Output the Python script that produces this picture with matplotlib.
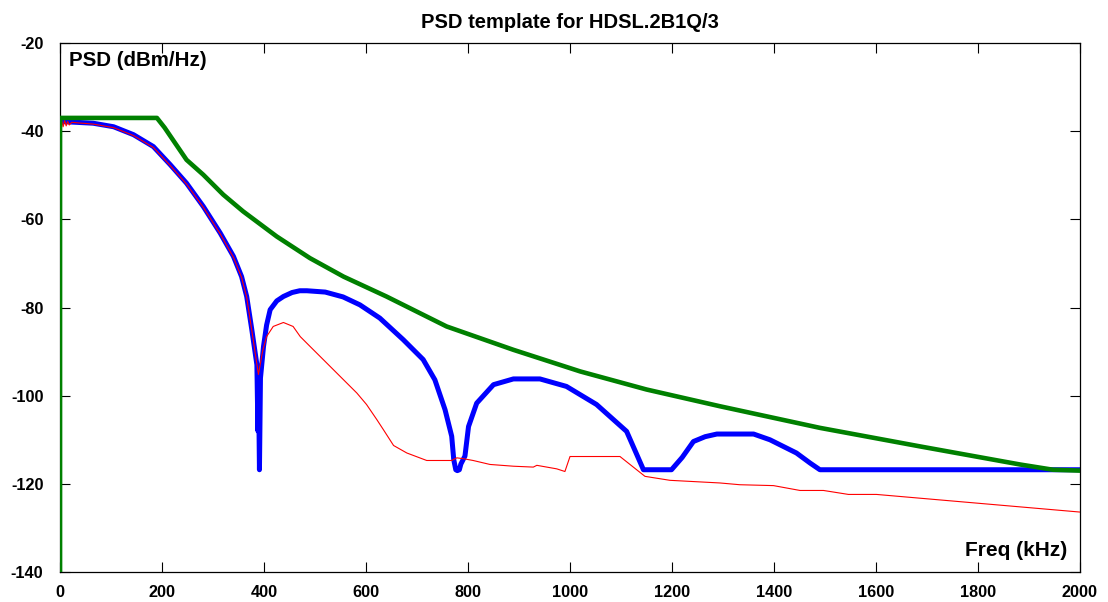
import matplotlib
matplotlib.use("Agg")
import matplotlib.pyplot as plt

plt.rcParams['font.family'] = ['Liberation Sans', 'DejaVu Sans']
plt.rcParams['font.weight'] = 'bold'
plt.rcParams['axes.unicode_minus'] = False

# template mask (green)
mask_f = [0, 0, 190, 205, 225, 248, 281, 320, 359, 425, 490, 556, 640, 758, 889, 1020,
          1150, 1294, 1490, 1686, 1882, 1947, 2000]
mask_p = [-140, -37, -37, -39.2, -42.6, -46.5, -49.9, -54.4, -58.2, -63.9, -68.8,
          -73.0, -77.5, -84.3, -89.6, -94.5, -98.6, -102.4, -107.3, -111.5, -115.6,
          -116.8, -117]

# nominal PSD (blue)
psd_f = [0, 65, 105, 144, 183, 216, 248, 281, 314, 340, 356, 366, 376, 386, 388, 389,
         391, 393, 399, 405, 412, 425, 438, 455, 470, 484, 520, 555, 588, 627, 673,
         712, 735, 755, 768, 772, 776, 779, 783, 786, 794, 801, 817, 850, 889, 941,
         993, 1052, 1111, 1144, 1199, 1220, 1242, 1265, 1288, 1360, 1392, 1444, 1471,
         1490, 2000]
psd_p = [-37.8, -38.2, -39.0, -40.8, -43.5, -47.6, -51.8, -57.1, -63.1, -68.4, -73.0,
         -77.5, -85.0, -93.0, -108.0, -95.0, -116.8, -96.0, -88.8, -84.0, -80.5,
         -78.5, -77.5, -76.6, -76.2, -76.2, -76.5, -77.6, -79.4, -82.4, -87.3, -91.8,
         -96.4, -103.2, -109.2, -114.5, -116.8, -117.0, -116.8, -115.5, -113.7, -107.0,
         -101.7, -97.5, -96.2, -96.2, -97.9, -102.0, -108.1, -116.8, -116.8, -114.0,
         -110.4, -109.3, -108.7, -108.7, -110.0, -113.0, -115.3, -116.8, -116.8]

# measured PSD (red)
meas_f = [0, 0, 3, 6, 9, 12, 15, 18, 23, 65, 105, 144, 183, 216, 248, 281, 314, 340,
          356, 366, 376, 389, 397, 405, 418, 438, 457, 471, 490, 523, 549, 582, 601,
          621, 634, 654, 680, 719, 768, 778, 791, 810, 843, 889, 928, 935, 974, 990,
          1000, 1098, 1147, 1196, 1294, 1333, 1399, 1451, 1497, 1546, 1601, 2000]
meas_p = [-140, -39.5, -37.5, -39.0, -37.6, -38.8, -37.8, -38.6, -38.0, -38.4, -39.2,
          -41.0, -43.7, -47.8, -52.0, -57.3, -63.3, -68.6, -73.2, -77.7, -85.2, -95.2,
          -90.0, -86.6, -84.3, -83.4, -84.3, -86.6, -88.8, -92.6, -95.6, -99.4,
          -102.0, -105.4, -107.7, -111.3, -113.0, -114.7, -114.7, -114.1, -114.3,
          -114.7, -115.6, -116.0, -116.2, -115.8, -116.6, -117.2, -113.8, -113.8,
          -118.3, -119.2, -119.8, -120.2, -120.4, -121.5, -121.5, -122.4, -122.4,
          -126.4]

xticks = [0, 200, 400, 600, 800, 1000, 1200, 1400, 1600, 1800, 2000]
yticks = [-140, -120, -100, -80, -60, -40, -20]

fig = plt.figure(figsize=(11.08, 6.02), dpi=100)
ax = fig.add_axes([0.0542, 0.0498, 0.9205, 0.8788])

ax.plot(meas_f, meas_p, color='#ff0000', lw=0.8, zorder=3)
ax.plot(psd_f, psd_p, color='#0000ff', lw=3.6, zorder=2)
ax.plot(mask_f, mask_p, color='#008000', lw=3.3, zorder=4)

ax.set_xlim(0, 2000)
ax.set_ylim(-140, -20)
ax.set_xticks(xticks)
ax.set_yticks(yticks)
ax.tick_params(direction='in', length=7, width=0.8, top=True, right=True,
               labelsize=11.7)
ax.tick_params(axis='x', pad=9)
ax.tick_params(axis='y', pad=12)
for lab in ax.get_xticklabels() + ax.get_yticklabels():
    lab.set_fontweight('bold')
for s in ax.spines.values():
    s.set_linewidth(0.9)

ax.set_title('PSD template for HDSL.2B1Q/3', fontsize=14.5, fontweight='bold', pad=11)
ax.text(0.009, 0.985, 'PSD (dBm/Hz)', transform=ax.transAxes, fontsize=14.8,
        fontweight='bold', ha='left', va='top')
ax.text(0.988, 0.022, 'Freq (kHz)', transform=ax.transAxes, fontsize=15,
        fontweight='bold', ha='right', va='bottom')

fig.savefig('out.png', dpi=100)
